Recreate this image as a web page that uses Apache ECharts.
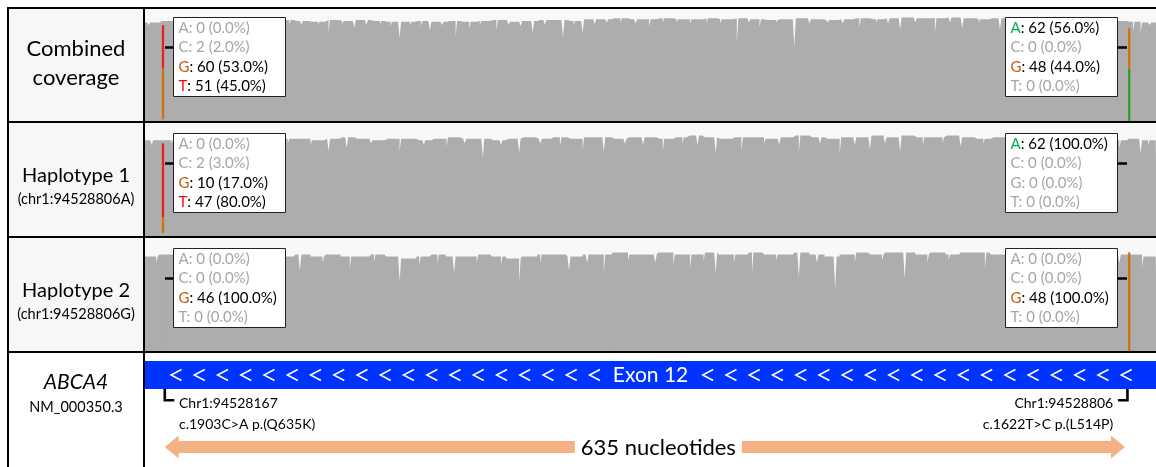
<!DOCTYPE html>
<html><head><meta charset="utf-8">
<script src="https://cdn.jsdelivr.net/npm/echarts@6.0.0/dist/echarts.min.js"></script>
<style>html,body{margin:0;padding:0;background:#fff}#c{width:1156px;height:467px}</style>
</head><body><div id="c"></div>
<script>
// ---------------- data ----------------
const VIEW_START = 94528155;          // first nucleotide of the coverage arrays
const BIN = 10;                        // nucleotides per coverage bin
const X_MIN = 94528155.6, X_MAX = 94528824.2;
const trackTitles = [['Combined', 'coverage'], ['Haplotype 1'], ['Haplotype 2']];
const trackSubs = ['', '(chr1:94528806A)', '(chr1:94528806G)'];
const trackMax = [132, 72, 55];
const geneName = 'ABCA4';
const transcript = 'NM_000350.3';
const exonLabel = 'Exon 12';
const exonRange = [94528100, 94528900];

// coverage (reads) per 10-nt bin
const cov1 = [116,118,118,119,117,118,119,117,118,119, 118,117,119,118,119,118,117,117,118,117, 118,117,118,119,117,118,119,119,118,120, 120,121,120,120,121,120,120,121,120,121, 120,119,120,121,120,119,120,121,120,121, 122,121,121,122,121,120,121,120,121,120, 120,119,120,119,118,117,116];
const cov2 = [61,61,62,62,61,62,63,62,61,62, 62,61,62,63,62,61,62,62,61,62, 63,62,62,61,62,63,62,63,62,63, 63,62,63,63,62,63,64,63,62,63, 63,62,63,64,63,62,63,63,64,63, 64,63,63,64,63,62,63,64,63,63, 62,63,62,62,61,62,61];
const cov3 = [46,47,47,46,47,46,47,47,46,46, 47,46,47,46,46,47,46,45,46,47, 46,46,47,46,45,46,47,47,46,47, 47,48,47,47,48,47,47,48,47,47, 48,47,47,48,47,46,47,48,47,48, 48,47,48,47,48,48,47,48,47,47, 48,47,47,48,47,47,46];
// single-nucleotide coverage dips [offset from VIEW_START, reads]
const dips1 = [[3,113],[8,114],[20,115],[27,113],[35,115],[48,107],[55,114],[61,110],[70,114],[78,113],[89,110],[96,114],[104,113],[115,114],[122,104],[131,114],[139,110],[147,113],[156,114],[163,112],[169,98],[176,113],[183,112],[189,107],[197,113],[206,99],[215,109],[222,113],[233,107],[241,113],[249,112],[257,104],[265,113],[277,99],[284,113],[290,104],[298,114],[306,116],[315,116],[325,115],[334,111],[343,116],[352,116],[361,115],[372,116],[381,115],[392,92],[400,116],[407,111],[418,116],[430,88],[440,115],[452,116],[462,115],[473,110],[484,116],[492,115],[500,108],[510,116],[523,104],[533,116],[541,109],[552,116],[566,108],[575,116],[588,116],[600,115],[613,106],[622,115],[635,110],[643,115],[654,106],[659,104],[665,113]];
const dips2 = [[5,58],[18,59],[33,58],[48,56],[62,59],[80,58],[95,59],[110,58],[122,54],[134,56],[150,59],[169,54],[185,58],[200,57],[212,59],[224,50],[236,58],[248,53],[262,59],[275,57],[290,55],[304,54],[318,59],[330,58],[343,54],[356,59],[366,58],[378,53],[395,54],[410,59],[420,58],[433,53],[447,59],[460,52],[470,58],[480,55],[490,59],[500,54],[515,58],[528,59],[540,57],[555,59],[570,58],[585,59],[600,58],[618,57],[630,59],[645,56],[659,53],[664,58]];
const dips3 = [[8,43],[22,44],[40,42],[58,43],[75,44],[90,42],[103,39],[118,43],[136,40],[152,43],[169,34],[182,42],[194,43],[205,38],[220,43],[236,42],[248,33],[262,43],[281,39],[293,43],[304,38],[320,44],[338,43],[350,42],[361,40],[370,44],[378,38],[390,43],[402,38],[418,44],[433,36],[445,43],[457,30],[470,43],[488,44],[503,35],[518,43],[532,44],[556,40],[575,43],[592,44],[610,43],[632,40],[645,43],[660,41]];

// variants
const bases = ['A', 'C', 'G', 'T'];
const variantPos = [94528167, 94528806];
const refBase = ['G', 'A'];
const variantChr = ['Chr1:94528167', 'Chr1:94528806'];
const variantHgvs = ['c.1903C>A p.(Q635K)', 'c.1622T>C p.(L514P)'];
const leftCounts  = [[0,2,60,51], [0,2,10,47], [0,0,46,0]];
const leftPct     = [[0,2,53,45], [0,3,17,80], [0,0,100,0]];
const rightCounts = [[62,0,48,0], [62,0,0,0], [0,0,48,0]];
const rightPct    = [[56,0,44,0], [100,0,0,0], [0,0,100,0]];
const spanNt = 635;

// ---------------- styling ----------------
const FONT = 'Lato, "Open Sans", sans-serif';
const GRAY = '#adadad';
const barColor = {A: '#22a022', C: '#1f3fd0', G: '#d17105', T: '#ee1c1c'};
const txtColor = {A: '#00b050', C: '#0070c0', G: '#c55a11', T: '#ff0000'};
const GL = 145, GW = 1011;
const gridTop = [9, 123, 238, 353];
const gridH = [112, 113, 113, 114];

function buildCoverage(bins, dips) {
  const n = bins.length * BIN;
  const v = [];
  for (let i = 0; i < n; i++) v.push(bins[Math.floor(i / BIN)]);
  dips.forEach(d => { v[d[0]] = d[1]; });
  const out = v.map((y, i) => [VIEW_START + i, y]);
  out.push([VIEW_START + n, v[n - 1]]);
  return out;
}
const coverage = [buildCoverage(cov1, dips1), buildCoverage(cov2, dips2), buildCoverage(cov3, dips3)];

function variantData(t) {
  return [
    [variantPos[0]].concat(leftCounts[t], [bases.indexOf(refBase[0])]),
    [variantPos[1]].concat(rightCounts[t], [bases.indexOf(refBase[1])])
  ];
}

function variantRender(params, api) {
  const pos = api.value(0);
  const counts = [api.value(1), api.value(2), api.value(3), api.value(4)];
  const ref = api.value(5);
  const total = counts.reduce((a, b) => a + b, 0);
  const nonRef = total - counts[ref];
  const flagged = nonRef / total > 0.2;
  const xa = api.coord([pos, 0])[0], xb = api.coord([pos + 1, 0])[0];
  const cx = (xa + xb) / 2, w = 2.2;
  const children = [];
  let acc = 0;
  const segs = [];
  if (!flagged) segs.push([total, GRAY]);
  else {
    let minor = 0;
    counts.forEach((c, i) => { if (c / total < 0.05) minor += c; });
    if (minor) segs.push([minor, GRAY]);
    counts.forEach((c, i) => { if (c / total >= 0.05) segs.push([c, barColor[bases[i]]]); });
  }
  segs.forEach(s => {
    const y0 = api.coord([pos, acc])[1];
    const y1 = api.coord([pos, acc + s[0]])[1];
    children.push({type: 'rect', shape: {x: cx - w / 2, y: y1, width: w, height: y0 - y1}, style: {fill: s[1]}});
    acc += s[0];
  });
  return {type: 'group', children};
}

function boxText(counts, pct) {
  return bases.map((b, i) => {
    const t = ': ' + counts[i] + ' (' + pct[i].toFixed(1) + '%)';
    return pct[i] >= 5 ? '{' + b + '|' + b + '}{k|' + t + '}' : '{g|' + b + t + '}';
  }).join('\n');
}
const richBase = {fontSize: 15, fontFamily: FONT, lineHeight: 19.4};
const boxRich = {
  k: Object.assign({fill: '#000', color: '#000'}, richBase),
  g: Object.assign({fill: '#a6a6a6', color: '#a6a6a6'}, richBase),
  A: Object.assign({fill: txtColor.A, color: txtColor.A}, richBase),
  C: Object.assign({fill: txtColor.C, color: txtColor.C}, richBase),
  G: Object.assign({fill: txtColor.G, color: txtColor.G}, richBase),
  T: Object.assign({fill: txtColor.T, color: txtColor.T}, richBase)
};

// ---------------- chart ----------------
const grids = gridTop.map((t, i) => ({left: GL, top: t, width: GW, height: gridH[i],
  show: i < 3, backgroundColor: '#f8f8f8', borderWidth: 0}));
const xAxes = gridTop.map((t, i) => ({type: 'value', gridIndex: i, min: X_MIN, max: X_MAX, show: false}));
const yAxes = gridTop.map((t, i) => i < 3
  ? ({type: 'value', gridIndex: i, min: 0, max: trackMax[i], show: false})
  : ({type: 'value', gridIndex: i, min: 0, max: gridH[3], inverse: true, show: false}));

const series = [];
for (let t = 0; t < 3; t++) {
  series.push({type: 'line', xAxisIndex: t, yAxisIndex: t, data: coverage[t], step: 'end',
    showSymbol: false, symbol: 'none', lineStyle: {width: 0}, areaStyle: {color: GRAY, opacity: 1},
    silent: true, z: 2, sampling: null});
  series.push({type: 'custom', xAxisIndex: t, yAxisIndex: t, data: variantData(t),
    renderItem: variantRender, z: 3, silent: true});
}
// exon
series.push({type: 'custom', xAxisIndex: 3, yAxisIndex: 3, data: [exonRange], clip: true, silent: true, z: 3,
  renderItem(params, api) {
    const cs = params.coordSys;
    const p0 = api.coord([api.value(0), 8]);
    const p1 = api.coord([api.value(1), 36]);
    const x0 = Math.max(p0[0], cs.x), x1 = Math.min(p1[0], cs.x + cs.width);
    const cy = api.coord([api.value(0), 22])[1];
    const children = [{type: 'rect', shape: {x: x0, y: p0[1], width: x1 - x0, height: p1[1] - p0[1]}, style: {fill: '#0033ff'}}];
    const chev = cx => ({type: 'polyline', shape: {points: [[cx + 5, cy - 5.5], [cx - 5.5, cy], [cx + 5, cy + 5.5]]},
      style: {stroke: '#fff', lineWidth: 1.5, fill: null}});
    for (let k = 0; k < 19; k++) children.push(chev(x0 + 31.5 + k * 23.25));
    for (let k = 0; k < 19; k++) children.push(chev(x1 - 29.3 - k * 23.25));
    children.push({type: 'text', style: {text: exonLabel, x: (x0 + x1) / 2, y: cy + 0.5, align: 'center', verticalAlign: 'middle',
      textAlign: 'center', textVerticalAlign: 'middle', fill: '#fff', font: '21px ' + FONT}});
    return {type: 'group', children};
  }});
// variant annotations (brackets + labels)
series.push({type: 'custom', xAxisIndex: 3, yAxisIndex: 3, silent: true, z: 3,
  data: variantPos.map((p, i) => [p, i]),
  renderItem(params, api) {
    const i = api.value(1);
    const p = api.value(0);
    const cx = (api.coord([p, 0])[0] + api.coord([p + 1, 0])[0]) / 2;
    const dir = i === 0 ? 1 : -1;
    const bx = cx + dir * 1.8;
    const yTop = api.coord([p, 36])[1], yBot = api.coord([p, 48.5])[1];
    const children = [
      {type: 'polyline', shape: {points: [[bx, yTop], [bx, yBot - 1.2], [bx + dir * 9.5, yBot - 1.2]]},
        style: {stroke: '#000', lineWidth: 2.6, fill: null}},
      {type: 'text', style: {text: variantChr[i], x: cx + dir * 16, y: api.coord([p, 50.5])[1],
        align: i === 0 ? 'left' : 'right', textAlign: i === 0 ? 'left' : 'right', verticalAlign: 'middle', textVerticalAlign: 'middle',
        fill: '#000', font: '14px ' + FONT}},
      {type: 'text', style: {text: variantHgvs[i], x: cx + dir * 16, y: api.coord([p, 71.5])[1],
        align: i === 0 ? 'left' : 'right', textAlign: i === 0 ? 'left' : 'right', verticalAlign: 'middle', textVerticalAlign: 'middle',
        fill: '#000', font: '14px ' + FONT}}
    ];
    return {type: 'group', children};
  }});
// span arrow
series.push({type: 'custom', xAxisIndex: 3, yAxisIndex: 3, silent: true, z: 3,
  data: [[variantPos[0], variantPos[1], spanNt]],
  renderItem(params, api) {
    const a = api.coord([api.value(0), 94]), b = api.coord([api.value(1) + 1, 94]);
    const xl = a[0] + 2.5, xr = b[0] - 5, cy = a[1];
    const hl = 14, hs = 6, hh = 11.5;
    const pts = [[xl, cy], [xl + hl, cy - hh], [xl + hl, cy - hs], [xr - hl, cy - hs], [xr - hl, cy - hh], [xr, cy],
      [xr - hl, cy + hh], [xr - hl, cy + hs], [xl + hl, cy + hs], [xl + hl, cy + hh]];
    return {type: 'group', children: [
      {type: 'polygon', shape: {points: pts}, style: {fill: '#f4b183'}},
      {type: 'text', z2: 5, style: {text: api.value(2) + ' nucleotides', x: (xl + xr) / 2 + 13.5, y: cy + 0.5,
        align: 'center', textAlign: 'center', verticalAlign: 'middle', textVerticalAlign: 'middle',
        fill: '#000', font: '22px ' + FONT, backgroundColor: '#fff', padding: [5, 6, 5, 6]}}
    ]};
  }});

// ---------------- graphic (frame, labels, boxes) ----------------
const graphic = [];
graphic.push({type: 'rect', z: 0, shape: {x: 8, y: 8, width: 136, height: 344}, style: {fill: '#f7f7f7'}});
const lineStyle = {stroke: '#000', lineWidth: 2};
[8, 122, 237, 352].forEach(y => graphic.push({type: 'line', z: 100, shape: {x1: 7, y1: y, x2: 1156, y2: y}, style: lineStyle}));
[8, 144].forEach(x => graphic.push({type: 'line', z: 100, shape: {x1: x, y1: 7, x2: x, y2: 467}, style: lineStyle}));
function label(text, x, y, size, italic) {
  graphic.push({type: 'text', z: 100, style: {text, x, y, align: 'center', textAlign: 'center', verticalAlign: 'middle',
    textVerticalAlign: 'middle', fill: '#000', font: (italic ? 'italic ' : '') + size + 'px ' + FONT}});
}
label(trackTitles[0][0], 76, 49, 22);
label(trackTitles[0][1], 76, 78, 22);
label(trackTitles[1][0], 76, 176, 20);
label(trackSubs[1], 76, 199, 14.5);
label(trackTitles[2][0], 76, 291, 20);
label(trackSubs[2], 76, 314, 14.5);
label(geneName, 76, 382, 21, true);
label(transcript, 76, 407, 14.5);

const boxTop = [17, 133, 248];
const BW = 112, BH = 79;
for (let t = 0; t < 3; t++) {
  const y = boxTop[t];
  [[173, leftCounts[t], leftPct[t]], [1005, rightCounts[t], rightPct[t]]].forEach(([x, c, p], side) => {
    graphic.push({type: 'rect', z: 101, shape: {x: x + 0.5, y: y + 0.5, width: BW, height: BH},
      style: {fill: '#fff', stroke: '#222', lineWidth: 1}});
    graphic.push({type: 'text', z: 102, style: {text: boxText(c, p), rich: boxRich, x: x + 5.5, y: y + 1.5,
      align: 'left', textAlign: 'left', verticalAlign: 'top', textVerticalAlign: 'top', font: '15px ' + FONT, lineHeight: 19.4}});
    const ty = y + 30.5;
    const tick = side === 0 ? {x1: 165, x2: 173} : {x1: 1117, x2: 1127};
    graphic.push({type: 'line', z: 101, shape: {x1: tick.x1, y1: ty, x2: tick.x2, y2: ty}, style: {stroke: '#000', lineWidth: 2.5}});
  });
}

const chart = echarts.init(document.getElementById('c'), null, {renderer: 'canvas'});
chart.setOption({animation: false, backgroundColor: '#fff', grid: grids, xAxis: xAxes, yAxis: yAxes, series, graphic});
</script></body></html>
